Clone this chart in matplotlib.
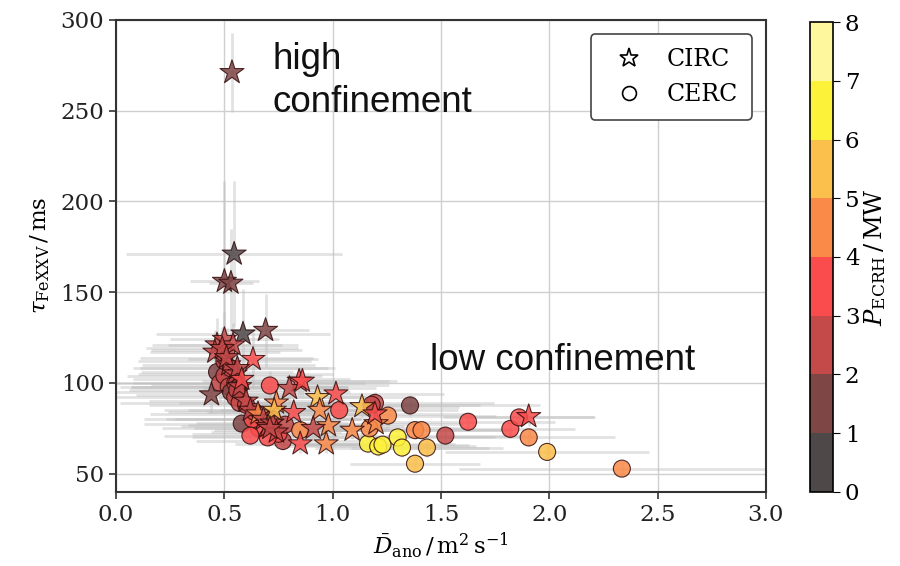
import matplotlib
matplotlib.use("Agg")
import matplotlib.pyplot as plt
from matplotlib.colors import ListedColormap, BoundaryNorm
from matplotlib.lines import Line2D

plt.rcParams['font.family'] = ['DejaVu Serif']
plt.rcParams['mathtext.fontset'] = 'dejavuserif'

# ---- CIRC (stars) ----
circ_x = [0.535, 0.545, 0.50, 0.53, 0.586, 0.69, 0.632, 0.466, 0.50, 0.54, 0.456, 0.44,
          0.52, 0.55, 0.57, 0.60, 0.62, 0.655, 0.68, 0.70, 0.72, 0.74, 0.74, 0.73,
          0.845, 0.80, 0.86, 0.93, 1.015, 1.135, 0.94, 0.98, 0.97, 1.09, 1.20, 1.195,
          0.85, 0.91, 1.905, 0.71, 0.82, 0.49, 0.51, 0.56, 0.58]
circ_y = [271, 171, 156, 155, 127, 129, 113, 121, 124, 121, 117, 93.5,
          110, 105, 98, 90, 85, 83, 80, 76, 78, 73, 89, 85,
          101, 97, 101, 92, 94, 87, 85, 76.5, 66.5, 74, 77.6, 83,
          66.5, 75, 81.5, 75, 83.8, 119, 114, 108, 102]
circ_p = [1.5, 0.5, 1.8, 1.5, 0.6, 1.5, 3.3, 2.5, 2.2, 2.6, 2.4, 1.5,
          2.2, 2.3, 2.5, 2.7, 2.2, 4.3, 2.3, 2.5, 2.2, 2.3, 4.5, 5.3,
          3.3, 2.3, 3.5, 5.3, 3.4, 5.5, 4.6, 4.4, 4.2, 4.3, 4.5, 3.2,
          3.3, 2.4, 3.5, 2.4, 3.3, 2.3, 2.6, 2.5, 3.2]
circ_xerr = [0.02, 0.50, 0.16, 0.10, 0.40, 0.20, 0.30, 0.30, 0.25, 0.30, 0.30, 0.35,
             0.40, 0.45, 0.50, 0.45, 0.40, 0.50, 0.45, 0.40, 0.35, 0.30, 0.45, 0.40,
             0.45, 0.40, 0.40, 0.45, 0.50, 0.45, 0.40, 0.35, 0.30, 0.35, 0.40, 0.45,
             0.30, 0.35, 0.30, 0.35, 0.40, 0.35, 0.40, 0.45, 0.50]
circ_yerr = [22, 40, 55, 30, 25, 20, 15, 15, 15, 12, 12, 10,
             12, 10, 10, 8, 8, 8, 8, 6, 6, 6, 8, 8,
             8, 8, 8, 6, 6, 6, 6, 6, 5, 5, 6, 6,
             5, 6, 5, 6, 6, 12, 10, 10, 8]

# ---- CERC (circles) ----
cerc_x = [0.466, 0.48, 0.50, 0.52, 0.53, 0.55, 0.57, 0.50, 0.51, 0.55, 0.58, 0.57,
          0.66, 0.77, 0.71, 0.63, 0.72, 0.75, 0.70, 0.78, 0.62, 1.195, 1.357, 1.255,
          1.38, 1.41, 1.163, 1.21, 1.23, 1.30, 1.32, 1.435, 1.38, 1.52, 1.17, 1.03,
          1.625, 1.82, 1.86, 1.905, 1.99, 2.335, 0.85, 1.18, 0.53, 0.56, 0.60, 0.64]
cerc_y = [106, 100, 104, 98, 95, 92, 89, 112, 118, 100, 77.6, 98,
          75, 68, 98.6, 80, 80, 72, 70, 77, 71, 89, 87.6, 82,
          74, 74, 66.6, 65, 66, 70, 64.4, 64.4, 55.5, 71, 75, 85,
          78.6, 74.7, 81, 70, 62, 52.8, 74, 88, 108, 96, 88, 84]
cerc_p = [1.5, 2.2, 2.5, 2.3, 1.7, 2.4, 2.6, 2.3, 2.4, 2.1, 1.5, 1.6,
          3.3, 2.4, 3.2, 3.4, 2.6, 3.1, 3.3, 2.8, 3.5, 2.4, 1.5, 4.4,
          4.5, 4.3, 6.3, 6.5, 6.2, 6.4, 6.6, 5.5, 5.4, 2.3, 4.4, 3.3,
          3.4, 3.3, 3.6, 4.5, 5.5, 4.4, 4.4, 2.4, 2.2, 2.6, 2.4, 2.7]
cerc_xerr = [0.35, 0.40, 0.45, 0.50, 0.55, 0.60, 0.55, 0.40, 0.35, 0.60, 0.45, 0.50,
             0.45, 0.40, 0.55, 0.50, 0.45, 0.40, 0.35, 0.45, 0.40, 0.55, 0.60, 0.50,
             0.45, 0.40, 0.40, 0.45, 0.40, 0.45, 0.40, 0.35, 0.30, 0.40, 0.45, 0.55,
             0.40, 0.30, 0.35, 0.40, 0.47, 0.75, 0.40, 0.50, 0.45, 0.50, 0.45, 0.40]
cerc_yerr = [10, 10, 10, 8, 8, 8, 8, 12, 12, 8, 6, 8,
             6, 5, 8, 6, 6, 5, 5, 6, 5, 6, 6, 6,
             5, 5, 5, 5, 5, 5, 5, 5, 4, 5, 5, 6,
             5, 5, 5, 5, 4, 4, 5, 6, 10, 8, 8, 6]

power_bounds = [0, 1, 2, 3, 4, 5, 6, 7, 8]
power_colors = ['#4f4848', '#7f4646', '#c44a4a', '#fa4c4c',
                '#f98a48', '#fbbf4b', '#fdf23a', '#fef79e']

cmap = ListedColormap(power_colors)
norm = BoundaryNorm(power_bounds, cmap.N)

fig = plt.figure(figsize=(9, 5.66), dpi=100)
ax = fig.add_axes([0.129, 0.131, 0.722, 0.834])
cax = fig.add_axes([0.900, 0.131, 0.0256, 0.830])

ax.grid(True, color='#cfcfcf', linewidth=1.0, zorder=0)
ax.set_axisbelow(True)

ecol = (0.75, 0.75, 0.75, 0.45)
ax.errorbar(circ_x, circ_y, xerr=circ_xerr, yerr=circ_yerr, fmt='none',
            ecolor=ecol, elinewidth=2.0, capsize=0, zorder=1)
ax.errorbar(cerc_x, cerc_y, xerr=cerc_xerr, yerr=cerc_yerr, fmt='none',
            ecolor=ecol, elinewidth=2.0, capsize=0, zorder=1)

ax.scatter(cerc_x, cerc_y, c=cerc_p, cmap=cmap, norm=norm, marker='o', s=150,
           edgecolors=(0.2, 0.05, 0.05, 0.75), linewidths=0.8, alpha=0.85, zorder=3)
ax.scatter(circ_x, circ_y, c=circ_p, cmap=cmap, norm=norm, marker='*', s=330,
           edgecolors=(0.2, 0.05, 0.05, 0.75), linewidths=0.8, alpha=0.85, zorder=4)

ax.set_xlim(0, 3.0)
ax.set_ylim(40, 300)
ax.set_xticks([0.0, 0.5, 1.0, 1.5, 2.0, 2.5, 3.0])
ax.set_yticks([50, 100, 150, 200, 250, 300])
ax.tick_params(labelsize=16.5, length=5, width=1.2, colors='#333333', labelcolor='#222222')
for sp in ax.spines.values():
    sp.set_linewidth(1.5)
    sp.set_color('#333333')

ax.set_xlabel(r'$\bar{D}_{\mathrm{ano}}\,/\,\mathrm{m^2\,s^{-1}}$', fontsize=16.5, labelpad=4)
ax.set_ylabel(r'$\tau_{\mathrm{FeXXV}}\,/\,\mathrm{ms}$', fontsize=16.5, labelpad=6)

ax.text(0.72, 288, 'high\nconfinement', family='Liberation Sans', fontsize=26.5,
        ha='left', va='top', color='#111111', linespacing=1.3, zorder=5)
ax.text(1.45, 122, 'low confinement', family='Liberation Sans', fontsize=26.5,
        ha='left', va='top', color='#111111', zorder=5)

handles = [Line2D([], [], marker='*', linestyle='none', markersize=14,
                  markerfacecolor='white', markeredgecolor='black', markeredgewidth=1.2),
           Line2D([], [], marker='o', linestyle='none', markersize=10,
                  markerfacecolor='white', markeredgecolor='black', markeredgewidth=1.2)]
leg = ax.legend(handles, ['CIRC', 'CERC'], loc='upper right', fontsize=17,
                frameon=True, fancybox=True, edgecolor='#444444', framealpha=1.0,
                borderpad=0.6, handletextpad=0.6, borderaxespad=0.6)
leg.get_frame().set_linewidth(1.2)

sm = matplotlib.cm.ScalarMappable(cmap=cmap, norm=norm)
cb = fig.colorbar(sm, cax=cax, ticks=power_bounds)
cb.ax.tick_params(labelsize=16.5, length=5)
cb.set_label(r'$P_{\mathrm{ECRH}}\,/\,\mathrm{MW}$', fontsize=17.5, labelpad=2)
cb.outline.set_linewidth(1.2)

fig.savefig('out.png', dpi=100)
